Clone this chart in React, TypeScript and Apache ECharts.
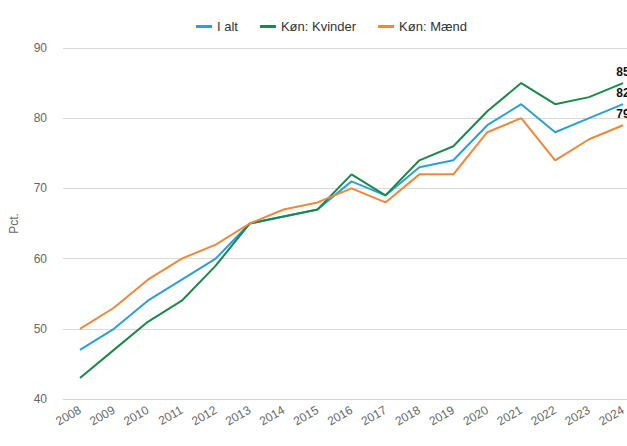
import React, { useEffect, useRef } from "react";
import * as echarts from "echarts";

const years = ["2008","2009","2010","2011","2012","2013","2014","2015","2016","2017","2018","2019","2020","2021","2022","2023","2024"];
const iAlt = [47, 50, 54, 57, 60, 65, 66, 67, 71, 69, 73, 74, 79, 82, 78, 80, 82];
const kvinder = [43, 47, 51, 54, 59, 65, 66, 67, 72, 69, 74, 76, 81, 85, 82, 83, 85];
const maend = [50, 53, 57, 60, 62, 65, 67, 68, 70, 68, 72, 72, 78, 80, 74, 77, 79];
const seriesNames = ["I alt", "Køn: Kvinder", "Køn: Mænd"];
const colors = ["#2c9fd6", "#1a8a4a", "#f0883a"];

export default function App() {
  const ref = useRef<HTMLDivElement>(null);
  useEffect(() => {
    if (!ref.current) return;
    const chart = echarts.init(ref.current, undefined, { renderer: "svg" });
    const mk = (name: string, data: number[], color: string) => ({
      name,
      type: "line",
      data,
      color,
      lineStyle: { width: 2, color },
      symbol: "circle",
      symbolSize: 0,
      showSymbol: true,
      showAllSymbol: true,
      label: {
        show: true,
        position: "top",
        distance: 5,
        fontFamily: "Liberation Sans, Arial, sans-serif",
        fontSize: 12,
        fontWeight: "bold",
        color: "#111",
        formatter: (p: any) => (p.dataIndex === data.length - 1 ? String(p.value) : ""),
      },
      emphasis: { disabled: true },
    });
    chart.setOption({
      animation: false,
      textStyle: { fontFamily: "Liberation Sans, Arial, sans-serif" },
      legend: {
        left: 191,
        top: 15,
        itemWidth: 16,
        itemHeight: 3,
        itemGap: 22,
        icon: "rect",
        textStyle: { fontSize: 13, color: "#333" },
        data: seriesNames,
      },
      grid: { left: 63, right: 20, top: 48, bottom: 47, containLabel: false },
      xAxis: {
        type: "category",
        data: years,
        boundaryGap: true,
        axisLine: { show: true, lineStyle: { color: "#ccd6eb" } },
        axisTick: { show: false },
        axisLabel: { rotate: 30, color: "#666", fontSize: 12, margin: 10, interval: 0 },
      },
      yAxis: {
        type: "value",
        min: 40,
        max: 90,
        interval: 10,
        name: "Pct.",
        nameLocation: "middle",
        nameGap: 43,
        nameTextStyle: { color: "#666", fontSize: 12 },
        axisLine: { show: false },
        axisTick: { show: false },
        axisLabel: { color: "#666", fontSize: 12, margin: 16 },
        splitLine: { lineStyle: { color: "#d9d9d9" } },
      },
      series: [
        mk(seriesNames[0], iAlt, colors[0]),
        mk(seriesNames[1], kvinder, colors[1]),
        mk(seriesNames[2], maend, colors[2]),
      ],
    });
    return () => chart.dispose();
  }, []);
  return (
    <div style={{ position: "fixed", left: 0, top: 0, width: 627, height: 446, overflow: "hidden", background: "#fff" }}>
      <div ref={ref} style={{ width: 660, height: 446 }} />
    </div>
  );
}
